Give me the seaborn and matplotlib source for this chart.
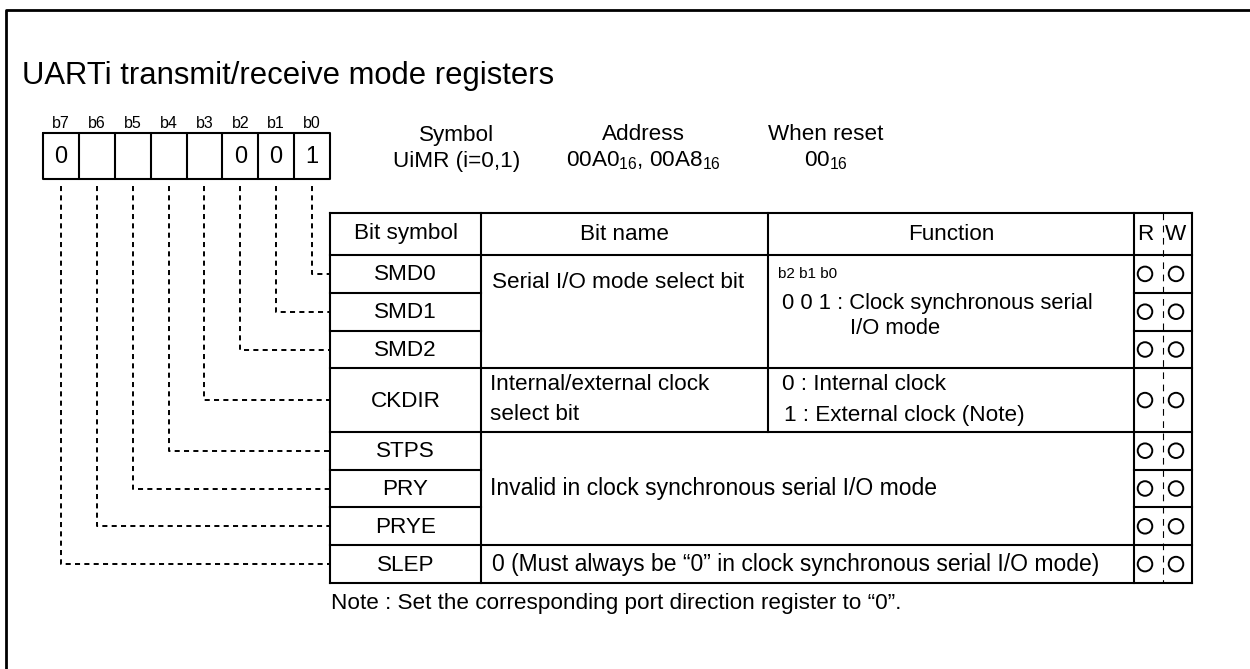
import pandas as pd
import seaborn as sns
import matplotlib.pyplot as plt

sns.set_theme(style='white')
plt.rcParams['font.family'] = ['Liberation Sans', 'DejaVu Sans']
plt.rcParams['text.color'] = 'black'
plt.rcParams['mathtext.fontset'] = 'custom'
plt.rcParams['mathtext.rm'] = 'Liberation Sans'

# register content
title = 'UARTi transmit/receive mode registers'
bit_labels = ['b7', 'b6', 'b5', 'b4', 'b3', 'b2', 'b1', 'b0']
bit_values = ['0', '', '', '', '', '0', '0', '1']
symbols = ['SMD0', 'SMD1', 'SMD2', 'CKDIR', 'STPS', 'PRY', 'PRYE', 'SLEP']
readable = [1, 1, 1, 1, 1, 1, 1, 1]
writable = [1, 1, 1, 1, 1, 1, 1, 1]
header_cols = ['Bit symbol', 'Bit name', 'Function', 'R', 'W']
info_titles = ['Symbol', 'Address', 'When reset']
info_values = ['UiMR (i=0,1)', r'00A0$\mathregular{_{16}}$, 00A8$\mathregular{_{16}}$',
               r'00$\mathregular{_{16}}$']
smd_name = 'Serial I/O mode select bit'
smd_func = ['b2 b1 b0', '0 0 1 : Clock synchronous serial', 'I/O mode']
ckdir_name = ['Internal/external clock', 'select bit']
ckdir_func = ['0 : Internal clock', '1 : External clock (Note)']
invalid_text = 'Invalid in clock synchronous serial I/O mode'
slep_text = '0 (Must always be \u201c0\u201d in clock synchronous serial I/O mode)'
note = 'Note : Set the corresponding port direction register to \u201c0\u201d.'

# layout (pixels)
fig = plt.figure(figsize=(12.5, 6.69), dpi=100)
ax = fig.add_axes([0, 0, 1, 1])
ax.set_xlim(0, 1250)
ax.set_ylim(669, 0)
ax.axis('off')

FS = 16.2
LW = 1.5
box_l, box_r, box_t, box_b = 43, 330, 133, 179
cell_w = (box_r - box_l) / 8
xs = [330, 481, 768, 1134, 1163, 1192]
head_t, head_b = 213, 255
row_h = [37.8, 37.8, 37.8, 63.4, 37.8, 37.8, 37.8, 37.8]
row_y = [head_b]
for h in row_h:
    row_y.append(row_y[-1] + h)
row_c = [(row_y[i] + row_y[i + 1]) / 2 for i in range(8)]

# frame
ax.plot([6, 6, 1250], [669, 10, 10], color='black', lw=2)
ax.text(22, 76, title, fontsize=22.3, va='center', ha='left')

# bit boxes
ax.plot([box_l, box_r, box_r, box_l, box_l], [box_t, box_t, box_b, box_b, box_t], color='black', lw=LW)
for i in range(1, 8):
    ax.plot([box_l + i * cell_w] * 2, [box_t, box_b], color='black', lw=LW)
for i, (lab, val) in enumerate(zip(bit_labels, bit_values)):
    cx = box_l + (i + 0.5) * cell_w
    ax.text(cx, 124, lab, fontsize=11.5, ha='center', va='center')
    ax.text(cx, 157, val, fontsize=17, ha='center', va='center')

# register info
for cx, t, v in zip([457, 643, 826], info_titles, info_values):
    ax.text(cx, 135, t, fontsize=FS, ha='center', va='center')
    ax.text(cx, 161, v, fontsize=FS, ha='center', va='center')

# dashed leader lines
dash = (0, (2.6, 2.2))
for i in range(8):
    bit = 7 - i
    cx = box_l + (i + 0.5) * cell_w
    y = row_c[bit]
    ax.plot([cx, cx, xs[0]], [186, y, y], color='black', lw=1.4, linestyle=dash)

# table grid
def hline(y, x0, x1):
    ax.plot([x0, x1], [y, y], color='black', lw=LW, solid_capstyle='projecting')

def vline(x, y0, y1):
    ax.plot([x, x], [y0, y1], color='black', lw=LW, solid_capstyle='projecting')

bottom = row_y[-1]
hline(head_t, xs[0], xs[5])
hline(head_b, xs[0], xs[5])
for k in range(1, 9):
    y = row_y[k]
    if k in (3, 4, 7, 8):
        hline(y, xs[0], xs[5])
    else:
        hline(y, xs[0], xs[1])
        hline(y, xs[3], xs[5])
vline(xs[0], head_t, bottom)
vline(xs[1], head_t, bottom)
vline(xs[2], head_t, row_y[4])
vline(xs[3], head_t, bottom)
vline(xs[5], head_t, bottom)
ax.plot([xs[4], xs[4]], [head_t, bottom], color='black', lw=0.8, linestyle=(0, (6, 5)))

# header
hc = (head_t + head_b) / 2
ax.text((xs[0] + xs[1]) / 2, hc, header_cols[0], fontsize=FS, ha='center', va='center')
ax.text((xs[1] + xs[2]) / 2, hc, header_cols[1], fontsize=FS, ha='center', va='center')
ax.text((xs[2] + xs[3]) / 2, hc, header_cols[2], fontsize=FS, ha='center', va='center')
ax.text(1145, hc, header_cols[3], fontsize=FS, ha='center', va='center')
ax.text(1176, hc, header_cols[4], fontsize=FS, ha='center', va='center')

# rows
for s, yc in zip(symbols, row_c):
    ax.text((xs[0] + xs[1]) / 2, yc + 1, s, fontsize=FS, ha='center', va='center')

ax.text(492, 283, smd_name, fontsize=FS, ha='left', va='center')
ax.text(778, 274, smd_func[0], fontsize=11, ha='left', va='center')
ax.text(782, 304, smd_func[1], fontsize=15.8, ha='left', va='center')
ax.text(850, 329, smd_func[2], fontsize=15.8, ha='left', va='center')

ax.text(490, 384, ckdir_name[0], fontsize=FS, ha='left', va='center')
ax.text(490, 415, ckdir_name[1], fontsize=FS, ha='left', va='center')
ax.text(782, 384, ckdir_func[0], fontsize=FS, ha='left', va='center')
ax.text(784, 415, ckdir_func[1], fontsize=FS, ha='left', va='center')

ax.text(490, (row_y[4] + row_y[7]) / 2, invalid_text, fontsize=16.5, ha='left', va='center')
ax.text(492, row_c[7], slep_text, fontsize=16.5, ha='left', va='center')

ax.text(331, 604, note, fontsize=FS, ha='left', va='center')

# R/W circles
rw = pd.DataFrame({
    'x': [1145] * sum(readable) + [1176] * sum(writable),
    'y': [c for c, r in zip(row_c, readable) if r] + [c for c, w in zip(row_c, writable) if w],
})
sns.scatterplot(data=rw, x='x', y='y', ax=ax, marker='o', s=110,
                facecolors='none', edgecolor='black', linewidth=1.4)
ax.set_xlim(0, 1250)
ax.set_ylim(669, 0)
ax.axis('off')

fig.savefig('out.png', dpi=100, facecolor='white')
